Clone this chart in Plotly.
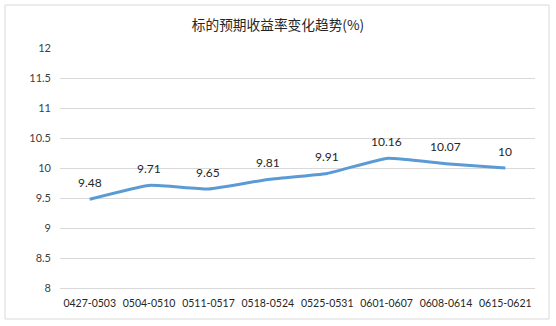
import plotly.graph_objects as go

categories = ["0427-0503", "0504-0510", "0511-0517", "0518-0524", "0525-0531", "0601-0607", "0608-0614", "0615-0621"]
values = [9.48, 9.71, 9.65, 9.81, 9.91, 10.16, 10.07, 10]
labels = ["9.48", "9.71", "9.65", "9.81", "9.91", "10.16", "10.07", "10"]
y_ticks = [8, 8.5, 9, 9.5, 10, 10.5, 11, 11.5, 12]
y_ticktext = ["8", "8.5", "9", "9.5", "10", "10.5", "11", "11.5", "12"]

fig = go.Figure()
fig.add_trace(go.Scatter(
    x=categories, y=values, mode="lines",
    line=dict(color="#5b9bd5", width=3, shape="spline", smoothing=0.4),
    cliponaxis=False, hoverinfo="skip",
))

for c, v, t in zip(categories, values, labels):
    fig.add_annotation(x=c, y=v, text=t, showarrow=False, yshift=17,
                       font=dict(family="Lato, Liberation Sans, sans-serif", size=12, color="#262626"))

L, R, T, B = 60, 21, 48, 38
W, H = 556, 326
pw, ph = W - L - R, H - T - B

def px_x(p):
    return (p - L) / pw

def px_y(p):
    return (H - B - p) / ph

fig.update_layout(
    width=W, height=H,
    margin=dict(l=L, r=R, t=T, b=B),
    paper_bgcolor="white", plot_bgcolor="white",
    showlegend=False,
    title=dict(text="标的预期收益率变化趋势(%)", x=0.5, xanchor="center", y=1 - 25 / H, yanchor="middle",
               font=dict(family="Noto Sans CJK SC", size=13.7, color="#262626")),
    xaxis=dict(type="category", showgrid=False, showline=True, linecolor="#d9d9d9", linewidth=1,
               ticks="", ticklabelstandoff=5,
               tickfont=dict(family="Lato, Liberation Sans, sans-serif", size=10.5, color="#262626"),
               range=[-0.5, len(categories) - 0.5]),
    yaxis=dict(range=[8, 12], tickvals=y_ticks, ticktext=y_ticktext, showgrid=True, gridcolor="#d9d9d9",
               gridwidth=1, zeroline=False, showline=False, ticks="", ticklen=0, ticklabelstandoff=8,
               tickfont=dict(family="Lato, Liberation Sans, sans-serif", size=11, color="#404040")),
    shapes=[dict(type="rect", xref="paper", yref="paper",
                 x0=px_x(5), x1=px_x(549), y0=px_y(319), y1=px_y(5),
                 line=dict(color="#d9d9d9", width=1), fillcolor="rgba(0,0,0,0)", layer="below")],
)

fig.write_html("out.html")
